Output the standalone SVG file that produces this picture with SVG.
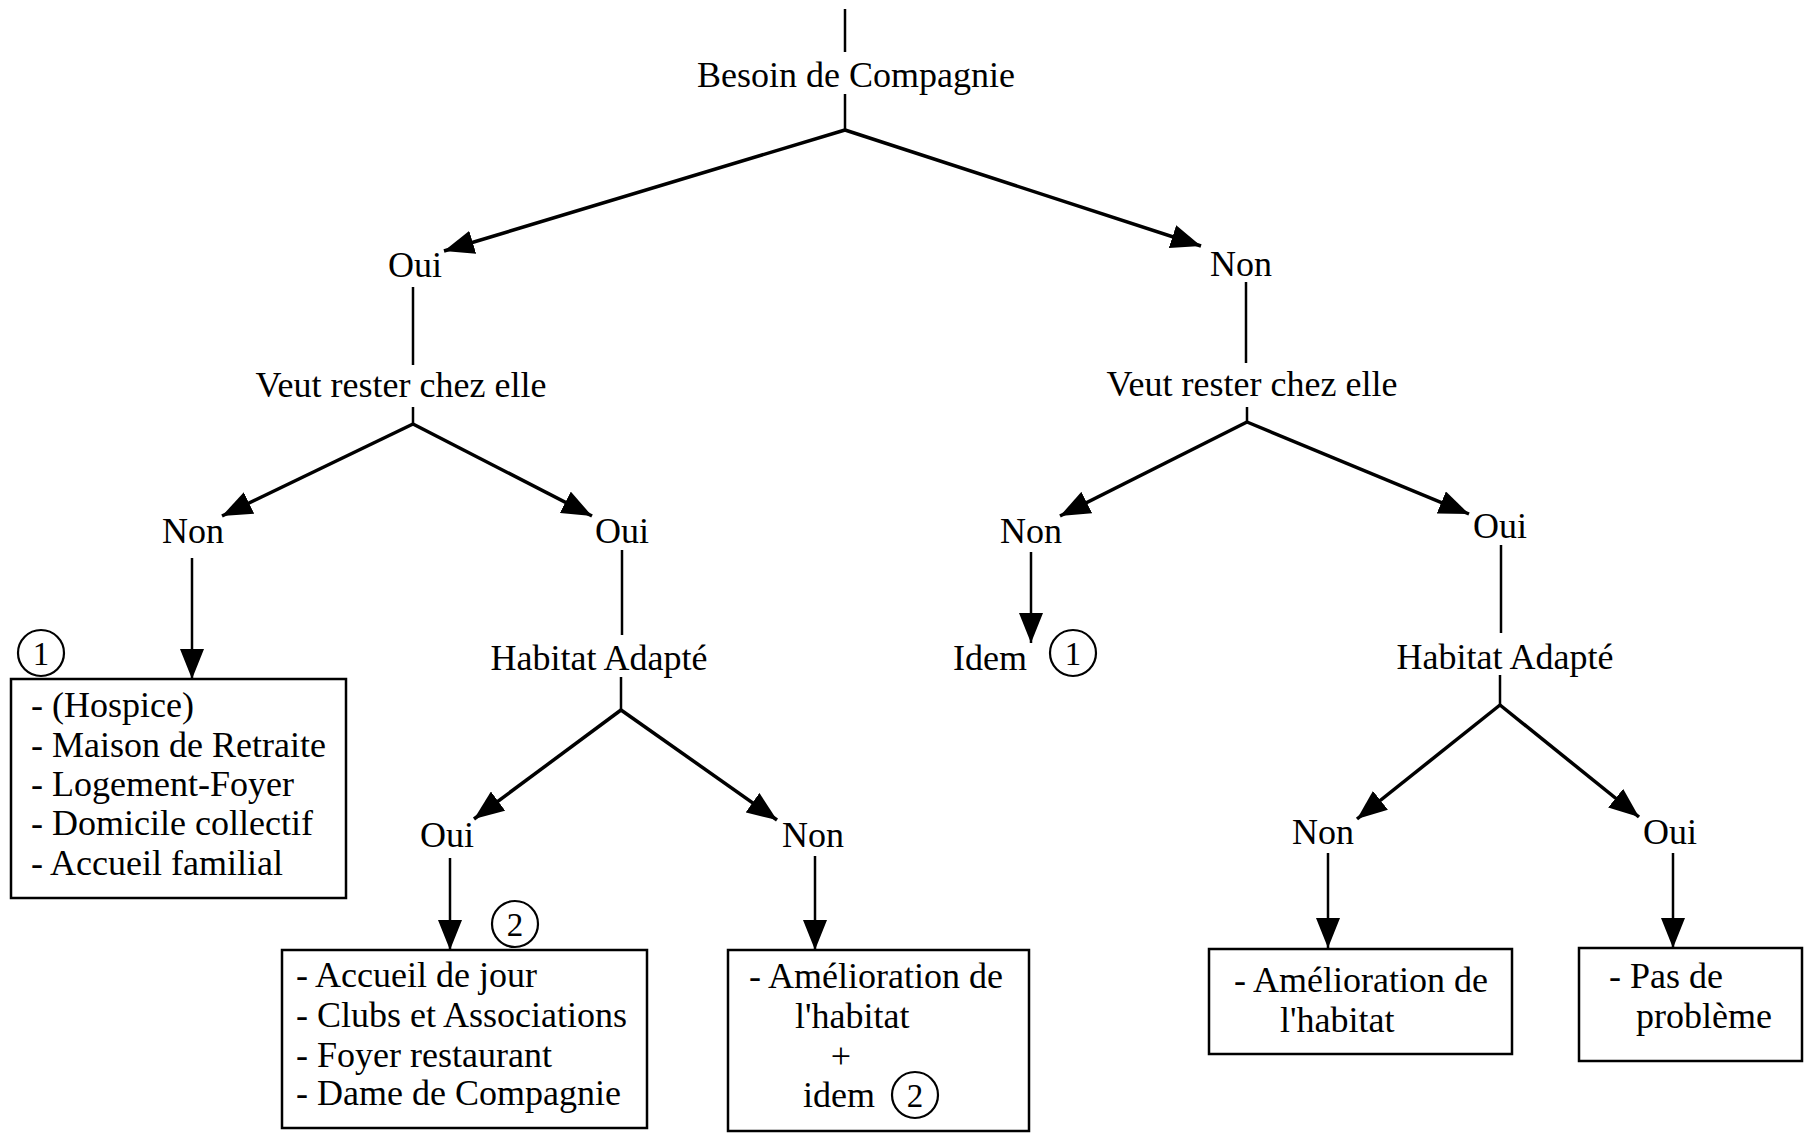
<svg xmlns="http://www.w3.org/2000/svg" width="1807" height="1133" viewBox="0 0 1807 1133">
<defs>
<marker id="ah" viewBox="0 0 30 24" refX="30" refY="12" markerWidth="30" markerHeight="24" markerUnits="userSpaceOnUse" orient="auto">
<path d="M0,0 L30,12 L0,24 z" fill="#000"/>
</marker>
<style>
text{font-family:"Liberation Serif","Times New Roman",serif;font-size:36px;fill:#000}
.c{text-anchor:middle}
.d{stroke:#000;stroke-width:3.5;fill:none}
.v{stroke:#000;stroke-width:2.5;fill:none}
.box{fill:#fff;stroke:#000;stroke-width:2.5}
.circ{fill:none;stroke:#000;stroke-width:2.2}
.num{font-size:33px;text-anchor:middle}
</style>
</defs>
<rect width="1807" height="1133" fill="#fff"/>
<g id="connectors">
<line class="v" x1="845" y1="9" x2="845" y2="52"/>
<line class="v" x1="845" y1="94" x2="845" y2="130"/>
<line class="d" x1="845" y1="130" x2="444" y2="251" marker-end="url(#ah)"/>
<line class="d" x1="845" y1="130" x2="1201" y2="246" marker-end="url(#ah)"/>
<line class="v" x1="413" y1="287" x2="413" y2="365"/>
<line class="v" x1="1246" y1="282" x2="1246" y2="363"/>
<line class="v" x1="413" y1="407" x2="413" y2="424"/>
<line class="v" x1="1247" y1="407" x2="1247" y2="422"/>
<line class="d" x1="413" y1="424" x2="222" y2="516" marker-end="url(#ah)"/>
<line class="d" x1="413" y1="424" x2="592" y2="516" marker-end="url(#ah)"/>
<line class="d" x1="1247" y1="422" x2="1060" y2="516" marker-end="url(#ah)"/>
<line class="d" x1="1247" y1="422" x2="1469" y2="514" marker-end="url(#ah)"/>
<line class="v" x1="192" y1="558" x2="192" y2="679" marker-end="url(#ah)"/>
<line class="v" x1="622" y1="550" x2="622" y2="635"/>
<line class="v" x1="621" y1="677" x2="621" y2="710"/>
<line class="v" x1="1031" y1="552" x2="1031" y2="643" marker-end="url(#ah)"/>
<line class="v" x1="1501" y1="545" x2="1501" y2="633"/>
<line class="v" x1="1500" y1="675" x2="1500" y2="705"/>
<line class="d" x1="621" y1="710" x2="474" y2="819" marker-end="url(#ah)"/>
<line class="d" x1="621" y1="710" x2="777" y2="820" marker-end="url(#ah)"/>
<line class="d" x1="1500" y1="705" x2="1357" y2="819" marker-end="url(#ah)"/>
<line class="d" x1="1500" y1="705" x2="1639" y2="817" marker-end="url(#ah)"/>
<line class="v" x1="450" y1="858" x2="450" y2="950" marker-end="url(#ah)"/>
<line class="v" x1="815" y1="856" x2="815" y2="950" marker-end="url(#ah)"/>
<line class="v" x1="1328" y1="853" x2="1328" y2="948" marker-end="url(#ah)"/>
<line class="v" x1="1673" y1="853" x2="1673" y2="948" marker-end="url(#ah)"/>
</g>
<g id="n-besoin"><text class="c" x="856" y="87">Besoin de Compagnie</text></g>
<g id="n-oui1"><text class="c" x="415" y="277">Oui</text></g>
<g id="n-non1"><text class="c" x="1241" y="276">Non</text></g>
<g id="n-veut-l"><text class="c" x="401" y="397">Veut rester chez elle</text></g>
<g id="n-veut-r"><text class="c" x="1252" y="396">Veut rester chez elle</text></g>
<g id="n-non2l"><text class="c" x="193" y="543">Non</text></g>
<g id="n-oui2l"><text class="c" x="622" y="543">Oui</text></g>
<g id="n-non2r"><text class="c" x="1031" y="543">Non</text></g>
<g id="n-oui2r"><text class="c" x="1500" y="538">Oui</text></g>
<g id="n-habitat-l"><text class="c" x="599" y="670">Habitat Adapté</text></g>
<g id="n-habitat-r"><text class="c" x="1505" y="669">Habitat Adapté</text></g>
<g id="n-idem1">
<text x="953" y="670">Idem</text>
<circle class="circ" cx="1073" cy="653" r="23"/>
<text class="num" x="1073" y="665">1</text>
</g>
<g id="n-oui3l"><text class="c" x="447" y="847">Oui</text></g>
<g id="n-non3l"><text class="c" x="813" y="847">Non</text></g>
<g id="n-non3r"><text class="c" x="1323" y="844">Non</text></g>
<g id="n-oui3r"><text class="c" x="1670" y="844">Oui</text></g>
<g id="box1">
<rect class="box" x="11" y="679" width="335" height="219"/>
<circle class="circ" cx="41" cy="653" r="23"/>
<text class="num" x="41" y="665">1</text>
<text x="31" y="717">- (Hospice)</text>
<text x="31" y="757">- Maison de Retraite</text>
<text x="31" y="796">- Logement-Foyer</text>
<text x="31" y="835">- Domicile collectif</text>
<text x="31" y="875">- Accueil familial</text>
</g>
<g id="box2">
<rect class="box" x="282" y="950" width="365" height="178"/>
<circle class="circ" cx="515" cy="924" r="23"/>
<text class="num" x="515" y="936">2</text>
<text x="296" y="987">- Accueil de jour</text>
<text x="296" y="1027">- Clubs et Associations</text>
<text x="296" y="1067">- Foyer restaurant</text>
<text x="296" y="1105">- Dame de Compagnie</text>
</g>
<g id="box3">
<rect class="box" x="728" y="950" width="301" height="181"/>
<text x="749" y="988">- Amélioration de</text>
<text x="795" y="1028">l'habitat</text>
<text class="c" x="841" y="1068">+</text>
<text x="803" y="1107">idem</text>
<circle class="circ" cx="915" cy="1095" r="23"/>
<text class="num" x="915" y="1107">2</text>
</g>
<g id="box4">
<rect class="box" x="1209" y="949" width="303" height="105"/>
<text x="1234" y="992">- Amélioration de</text>
<text x="1280" y="1032">l'habitat</text>
</g>
<g id="box5">
<rect class="box" x="1579" y="948" width="223" height="113"/>
<text x="1609" y="988">- Pas de</text>
<text class="c" x="1704" y="1028">problème</text>
</g>
</svg>
